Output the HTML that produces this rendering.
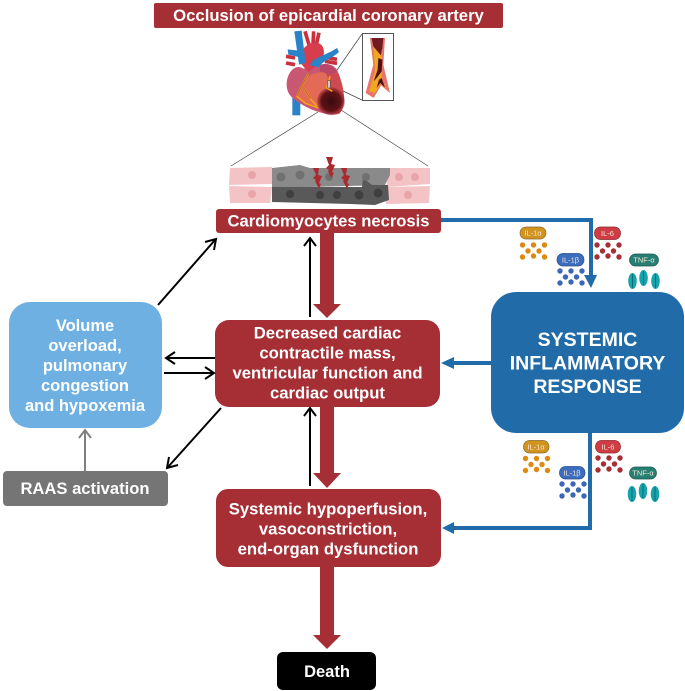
<!DOCTYPE html>
<html><head><meta charset="utf-8"><style>
html,body{margin:0;padding:0;background:#fff}
svg{display:block}
text{font-family:"Liberation Sans",sans-serif;font-weight:bold;fill:#fff;text-anchor:middle;dominant-baseline:central}
.c{font-weight:normal;font-size:7.500px;fill:#f3e6d8}
</style></head><body>
<svg width="685" height="691" viewBox="0 0 685 691" xmlns="http://www.w3.org/2000/svg">
<defs>
<g id="d1"><circle cx="0" cy="0" r="2.700"/><circle cx="11" cy="0" r="2.700"/><circle cx="22" cy="0" r="2.700"/><circle cx="5.500" cy="6" r="2.700"/><circle cx="16.500" cy="6" r="2.700"/><circle cx="0" cy="12" r="2.700"/><circle cx="11" cy="11" r="2.700"/><circle cx="22" cy="12" r="2.700"/></g>
<g id="tn"><g fill="#16a3ac"><ellipse cx="0" cy="8" rx="4.300" ry="8"/><ellipse cx="11" cy="5" rx="4.300" ry="8"/><ellipse cx="23" cy="8" rx="4.300" ry="8"/></g><g stroke="#0b6f78" stroke-width="1"><path d="M0 1V15M11 -2V12M23 1V15"/></g></g>
<radialGradient id="nec"><stop offset="0" stop-color="#3a0b0f"/><stop offset=".7" stop-color="#5e1216"/><stop offset="1" stop-color="#8a2028" stop-opacity=".35"/></radialGradient>
</defs>

<!-- dotted zoom lines -->
<g stroke="#444" stroke-width=".7" fill="none">
<path d="M231 166L318 112M428 166L341 110M337 70L362 34M343 91L362 100"/>
</g>

<!-- heart, drawn in 3x local coordinates -->
<g transform="translate(275 28) scale(.3333)">
<path d="M52 195H76V262H52Z" fill="#2a83c6"/>
<g stroke="#c8323f" stroke-width="11" fill="none"><path d="M33 85L60 90M33 105L60 110M90 10L102 50M116 10L114 50M132 14L124 50M150 88L186 94M150 100L186 106"/></g>
<path d="M35 170C35 135 60 105 85 122L130 112C160 100 185 115 190 135C208 180 216 235 192 258C165 264 120 252 85 232C55 215 35 200 35 170Z" fill="#c95772"/>
<path d="M135 112C160 100 180 122 186 132L165 142L135 132Z" fill="#b9476a"/>
<path d="M150 140L190 135C208 180 216 235 192 258L135 245Z" fill="#cf4a50"/>
<path d="M90 150C110 135 150 125 155 140C165 165 155 190 135 235C110 230 75 218 68 205C72 185 85 170 90 150Z" fill="#e26a56"/>
<path d="M76 105C72 62 100 42 125 44C152 48 150 82 140 100L100 132Z" fill="#d83d4e"/>
<g fill="#2a83c6">
<path d="M58 10L80 8L92 105L72 110Z"/>
<path d="M38 64L72 68L76 88L40 80Z"/>
<path d="M106 112C108 90 150 84 186 60L192 72C170 92 140 100 132 118Z"/>
</g>
<circle cx="168" cy="220" r="42" fill="url(#nec)"/>
<g fill="none" stroke="#f2a21d" stroke-width="5">
<path d="M100 135L85 165L65 205L92 226L130 240"/>
<path d="M88 182L106 212L126 236"/>
<path d="M165 145L155 180L172 190"/>
</g>
<g fill="none" stroke="#7a2a20" stroke-width="1.500"><path d="M100 135L85 165L65 205M88 182L106 212"/></g>
<rect x="158" y="158" width="8" height="22" fill="#ccc" stroke="#444" stroke-width="1.500"/>
</g>

<!-- inset -->
<rect x="362.500" y="33.500" width="31" height="67" fill="#fff" stroke="#555" stroke-width="1"/>
<g transform="translate(275 28) scale(.3333)">
<path d="M285 30H330L325 110L345 195L318 172L296 210L272 195L295 110Z" fill="#e8746c"/>
<path d="M290 30H325L322 60L316 88L295 55Z" fill="#6e1c22"/>
<path d="M295 55L320 85L320 150L335 185L318 165L300 195L282 190L300 130Z" fill="#f0a81e"/>
<path d="M310 90L322 95L320 130L305 150L296 160L308 125Z" fill="#4b1216"/>
<path d="M320 150L330 178L316 165L305 180L312 155Z" fill="#4b1216"/>
</g>

<!-- cells -->
<g fill="#f4c3c5">
<path d="M230 168L272 167L272 184L229 185Z"/><path d="M229 186L272 187L270 203L230 203Z"/>
<path d="M390 168L430 168L430 184L386 187Z"/><path d="M385 187L430 186L429 203L386 204Z"/>
</g>
<g fill="#e9a4aa"><circle cx="252" cy="175" r="4"/><circle cx="252" cy="194" r="4"/><circle cx="399" cy="177" r="4"/><circle cx="415" cy="177" r="4"/><circle cx="408" cy="195" r="4"/></g>
<path d="M272 168L300 165L310 168H390L390 175L385 185L272 188Z" fill="#8a8a8a"/>
<path d="M272 187H362L363 178L372 185H388L389 200L375 205L350 204L272 202Z" fill="#595959"/>
<g fill="#707070"><circle cx="281" cy="177" r="4.500"/><circle cx="300" cy="175" r="4.500"/><circle cx="329" cy="177" r="4"/><circle cx="366" cy="177" r="4"/></g>
<g fill="#3f3f3f"><circle cx="290" cy="194" r="4"/><circle cx="320" cy="195" r="4"/><circle cx="337" cy="195" r="4"/><circle cx="359" cy="195" r="4.500"/><circle cx="378" cy="193" r="4.500"/></g>
<g fill="#ab2a30">
<path d="M326 157L333 157L331 164L335 165L332 172L334 173L331 178L328 171L329 170L326 168L329 165Z"/>
<path d="M313 168L319 168L318 175L322 176L319 183L321 184L319 189L315 181L316 180L313 178L316 175Z"/>
<path d="M341 168L347 168L346 175L350 176L347 183L349 184L347 189L343 181L344 180L341 178L344 175Z"/>
</g>

<!-- big red arrows -->
<g fill="#a62e35">
<path d="M320 232H334V304H341L327 318L313 304H320Z"/>
<path d="M320 406H334V473H341L327 488L313 473H320Z"/>
<path d="M320 566H334V635H341L327 649L313 635H320Z"/>
</g>

<!-- boxes -->
<rect x="154" y="3" width="349" height="25" rx="2" fill="#a62e35"/>
<rect x="216" y="209" width="225" height="24" rx="3" fill="#a62e35"/>
<rect x="215" y="320" width="225" height="87" rx="14" fill="#a62e35"/>
<rect x="216" y="489" width="225" height="78" rx="12" fill="#a62e35"/>
<rect x="277" y="652" width="99" height="38" rx="6" fill="#000"/>
<rect x="9" y="302" width="153" height="126" rx="21" fill="#6fb0e2"/>
<rect x="3" y="471" width="165" height="35" rx="4" fill="#757575"/>
<rect x="491" y="292" width="193" height="141" rx="25" fill="#216ca8"/>

<!-- black arrows -->
<g fill="none" stroke="#000" stroke-width="2">
<path d="M310 317V239M304 246L310 238L316 246"/>
<path d="M310 486V409M304 416L310 408L316 416"/>
<path d="M215 358H167M175 352L166 358L175 364"/>
<path d="M164 373H213M205 367L214 373L205 379"/>
<path d="M221 408L168 467M169 457L167 468L178 465"/>
<path d="M158 305L215 240M205 242L216 239L214 250"/>
</g>
<g fill="none" stroke="#808080" stroke-width="2"><path d="M85 471V431M79 438L85 430L91 438"/></g>

<!-- blue arrows -->
<g fill="none" stroke="#216ca8" stroke-width="4">
<path d="M441 220H591V276"/>
<path d="M590 433V528H450"/>
<path d="M491 363H452"/>
</g>
<g fill="#216ca8">
<path d="M584 275H597L591 288Z"/>
<path d="M442 528L454 522V534Z"/>
<path d="M441 363L454 357V369Z"/>
</g>

<!-- labels -->
<text x="328.500" y="15.500" font-size="16.700px">Occlusion of epicardial coronary artery</text>
<text x="328.500" y="221" font-size="16.600px">Cardiomyocytes necrosis</text>
<text font-size="16.700px" x="327.500" y="333">Decreased cardiac</text>
<text font-size="16.700px" x="327.500" y="353">contractile mass,</text>
<text font-size="16.700px" x="327.500" y="373">ventricular function and</text>
<text font-size="16.700px" x="327.500" y="393">cardiac output</text>
<text font-size="16.700px" x="328" y="509">Systemic hypoperfusion,</text>
<text font-size="16.700px" x="328" y="529">vasoconstriction,</text>
<text font-size="16.700px" x="328" y="549">end-organ dysfunction</text>
<text font-size="16.500px" x="327" y="672">Death</text>
<text font-size="16.500px" x="85" y="326">Volume</text>
<text font-size="16.500px" x="85" y="346">overload,</text>
<text font-size="16.500px" x="85" y="366">pulmonary</text>
<text font-size="16.500px" x="85" y="386">congestion</text>
<text font-size="16.500px" x="85" y="406">and hypoxemia</text>
<text font-size="16.600px" x="85" y="488.500">RAAS activation</text>
<text font-size="19.500px" x="587.500" y="340">SYSTEMIC</text>
<text font-size="19.500px" x="587.500" y="363.500">INFLAMMATORY</text>
<text font-size="19.500px" x="587.500" y="387">RESPONSE</text>

<!-- cytokines top -->
<rect x="520" y="227" width="26" height="12" rx="6" fill="#d1941f" stroke="#8a6a30" stroke-width=".7"/><text class="c" x="533" y="233">IL-1α</text>
<use href="#d1" x="522.500" y="245" fill="#de8a10"/>
<rect x="557" y="253.500" width="27" height="12.500" rx="6" fill="#3c6ec0" stroke="#2a4f8a" stroke-width=".7"/><text class="c" x="570.500" y="260">IL-1β</text>
<use href="#d1" x="560" y="271" fill="#3c66b8"/>
<rect x="594.500" y="227" width="26" height="12.500" rx="6" fill="#d03c44" stroke="#8a2a30" stroke-width=".7"/><text class="c" x="607.500" y="233.500">IL-6</text>
<use href="#d1" x="597" y="245" fill="#a62e35"/>
<rect x="629.500" y="254" width="29" height="12" rx="6" fill="#277e72" stroke="#1b5a50" stroke-width=".7"/><text class="c" x="644" y="260">TNF-α</text>
<use href="#tn" x="632.500" y="273"/>

<!-- cytokines bottom -->
<rect x="523.500" y="440.500" width="25.500" height="12.500" rx="6" fill="#d1941f" stroke="#8a6a30" stroke-width=".7"/><text class="c" x="536" y="447">IL-1α</text>
<use href="#d1" x="525.500" y="458.500" fill="#de8a10"/>
<rect x="559.500" y="466.500" width="25.500" height="12.500" rx="6" fill="#3c6ec0" stroke="#2a4f8a" stroke-width=".7"/><text class="c" x="572" y="473">IL-1β</text>
<use href="#d1" x="562" y="484" fill="#3c66b8"/>
<rect x="595.500" y="440.500" width="25" height="12.500" rx="6" fill="#d03c44" stroke="#8a2a30" stroke-width=".7"/><text class="c" x="608" y="447">IL-6</text>
<use href="#d1" x="598" y="458" fill="#a62e35"/>
<rect x="629.500" y="467" width="27" height="12" rx="6" fill="#277e72" stroke="#1b5a50" stroke-width=".7"/><text class="c" x="643" y="473">TNF-α</text>
<use href="#tn" x="632" y="486"/>
</svg>
</body></html>
